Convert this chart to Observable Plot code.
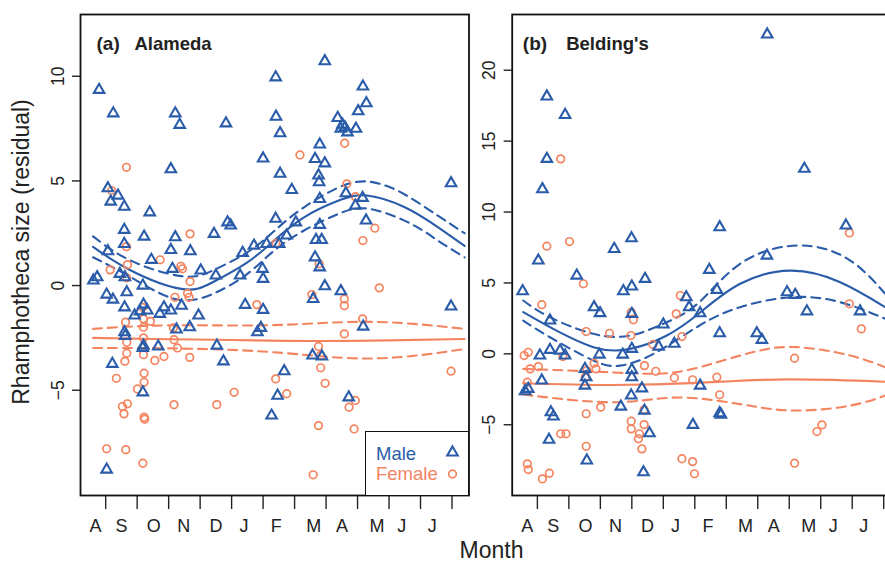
<!DOCTYPE html>
<html><head><meta charset="utf-8">
<script src="https://cdn.jsdelivr.net/npm/d3@7"></script>
<script src="https://cdn.jsdelivr.net/npm/@observablehq/plot@0.6"></script>
<style>
html,body{margin:0;padding:0;background:#fff;overflow:hidden;}
#wrap{position:relative;width:885px;height:562px;overflow:hidden;font-family:"Liberation Sans",Arial,Helvetica,sans-serif;}
.panel{position:absolute;top:0;}
#xtitle{position:absolute;left:0;width:983px;top:539px;text-align:center;font-size:23px;line-height:23px;color:#222;}
#legend{position:absolute;left:365px;top:431px;width:104px;height:65px;box-sizing:border-box;border:1.8px solid #111;background:#fff;}
#legend .t{position:absolute;font-size:18.5px;line-height:18.5px;}
#legend svg{position:absolute;left:0;top:0;}
</style></head>
<body><div id="wrap"></div>
<script>
// ---------- axis / label data ----------
const monthTicks = [1,2,3,4,5,6,7,8,9,10,11,12];
const monthLabels = ["A","S","O","N","D","J","F","M","A","M","J","J"];
const monthLabelPos = [0.68,1.5,2.53,3.48,4.5,5.39,6.42,7.61,8.51,9.62,10.4,11.37];
const alamedaYTicks = [-5,0,5,10];
const beldingYTicks = [-5,0,5,10,15,20];
const yTitle = "Rhamphotheca size (residual)";
const xTitle = "Month";
const legendLabels = ["Male","Female"];

// ---------- (a) Alameda ----------
const alamedaMaleX = [0.79,1.24,3.21,3.35,4.82,6.40,6.41,6.54,3.07,6.00,6.54,6.91,1.07,1.39,1.16,1.59,2.40,1.59,2.22,3.21,1.59,1.07,3.07,3.69,4.44,4.87,4.97,2.45,5.35,5.71,6.11,6.40,7.04,6.75,6.51,1.45,0.73,3.12,4.02,4.50,5.27,5.98,
0.61,1.67,1.61,1.03,1.23,1.60,2.18,1.92,2.09,2.20,2.32,2.72,2.85,3.07,3.41,6.00,3.95,3.67,3.25,1.60,1.62,2.20,2.18,2.67,4.53,4.74,5.43,6.00,5.93,5.82,1.21,2.18,1.03,6.67,6.46,6.27,
7.96,9.17,9.28,9.02,8.37,8.52,8.60,8.68,8.95,8.47,7.80,7.65,7.96,7.76,7.78,11.97,7.80,8.63,9.16,8.93,9.27,7.80,7.68,7.86,7.65,7.80,
7.59,7.96,8.47,9.18,11.97,7.57,7.87,8.72];
const alamedaMaleY = [9.35,8.23,8.23,7.68,7.75,9.95,8.07,7.28,5.56,6.07,5.34,4.57,4.65,4.30,4.01,3.77,3.50,2.66,2.34,2.31,1.99,1.64,1.70,1.64,2.47,3.02,2.87,1.23,1.56,1.91,1.99,3.19,3.02,2.39,1.99,0.56,0.40,0.80,0.72,0.48,0.48,0.80,
0.24,-0.32,0.40,-0.43,-0.67,-1.04,0.00,-1.43,-1.23,-0.91,-1.19,-1.35,-1.04,-1.19,-0.96,0.32,-1.43,-1.99,-2.10,-2.23,-2.40,-2.87,-2.98,-2.91,-2.87,-3.62,-0.92,-1.16,-2.02,-2.23,-3.74,-5.10,-8.79,-4.09,-5.26,-6.21,
10.72,9.51,8.71,8.33,8.01,7.69,7.56,7.32,7.49,7.49,6.74,6.05,5.84,5.26,4.94,4.89,4.14,4.41,4.19,3.82,3.11,2.90,2.18,2.18,1.35,0.87,
-0.64,-0.03,-0.27,-1.96,-1.00,-3.34,-3.39,-5.34];
const alamedaFemaleX = [1.66,1.19,3.68,1.66,1.69,1.14,2.73,3.39,3.44,7.17,6.41,
1.67,3.68,3.20,3.60,3.65,2.17,1.63,2.42,2.20,2.20,2.20,1.67,3.15,3.17,3.28,1.67,2.20,1.61,2.85,2.56,3.67,1.34,2.22,2.22,2.01,5.08,5.80,1.53,1.69,1.58,3.17,4.53,2.22,2.24,1.03,1.64,2.18,6.40,6.75,
8.59,8.66,8.93,9.55,9.17,7.78,
7.55,8.58,8.58,9.69,9.16,8.58,7.76,7.83,7.83,7.97,11.97,8.93,8.73,7.76,8.89,7.59];
const alamedaFemaleY = [5.65,4.54,2.47,1.86,1.00,0.75,1.23,0.92,0.80,6.24,2.02,
0.37,0.19,-0.56,-0.37,-0.56,-1.04,-1.75,-1.71,-1.59,-1.99,-2.50,-2.71,-2.02,-2.59,-2.98,-3.23,-3.30,-3.62,-3.39,-3.58,-3.43,-4.43,-4.19,-4.62,-4.94,-5.10,-0.91,-5.78,-5.65,-6.13,-5.69,-5.69,-6.29,-6.38,-7.80,-7.84,-8.49,-4.46,-5.17,
6.80,4.86,4.25,2.74,2.15,1.04,
-0.43,-0.64,-0.96,-0.11,-1.59,-2.31,-2.91,-3.34,-3.93,-4.67,-4.09,-5.49,-5.81,-6.69,-6.85,-9.04];
// fitted curves
const alamedaMaleFitX   = [0.6,1.8,3.4,4.4,5.5,6.35,7.3,8.4,9.3,10.5,11.55,12.4];
const alamedaMaleFitY   = [1.85,0.72,-0.16,0.16,1.11,2.15,3.26,4.06,4.30,3.74,2.79,1.9];
const alamedaMaleUpX    = [0.6,1.8,3.4,4.4,5.5,6.35,7.3,8.7,9.7,10.5,11.55,12.4];
const alamedaMaleUpY    = [2.35,1.19,0.45,0.72,1.59,2.6,3.74,4.86,4.86,4.35,3.34,2.5];
const alamedaMaleLoX    = [0.6,1.8,3.2,4.4,5.5,6.35,7.3,8.4,9.4,10.7,11.55,12.4];
const alamedaMaleLoY    = [1.35,0.40,-0.64,-0.40,0.56,1.67,2.63,3.43,3.66,2.95,2.15,1.35];
const alamedaFemaleFitX = [0.6,2.5,5,7.5,10,12.4];
const alamedaFemaleFitY = [-2.5,-2.55,-2.6,-2.65,-2.62,-2.55];
const alamedaFemaleUpX  = [0.6,3,6,8.5,10.5,12.4];
const alamedaFemaleUpY  = [-2.07,-1.9,-1.9,-1.75,-1.8,-2.07];
const alamedaFemaleLoX  = [0.6,3,6,8.5,10.5,12.4];
const alamedaFemaleLoY  = [-2.98,-3.0,-3.15,-3.45,-3.4,-3.03];

// ---------- (b) Belding's ----------
const beldingMaleX = [1.30,1.88,1.30,1.16,3.44,3.99,1.03,2.25,4.42,8.30,9.48,6.79,10.80,8.29,6.46,0.53,3.73,4.00,2.80,2.99,1.40,4.00,5.00,5.35,4.85,1.40,1.08,1.72,1.88,2.97,3.71,4.00,2.51,2.55,2.51,4.00,4.00,4.32,3.98,3.65,1.14,0.61,0.71,1.43,1.51,1.37,4.40,4.56,2.57,4.37,5.73,5.82,6.70,6.17,6.79,7.97,8.13,8.93,9.19,9.56,11.25,6.17,6.79,6.83,5.94];
const beldingMaleY = [18.15,16.85,13.75,11.61,7.40,8.15,6.58,5.52,5.29,22.52,13.05,8.93,9.05,6.93,5.92,4.42,4.42,4.75,3.29,2.87,2.35,2.82,2.07,0.71,0.51,0.28,-0.12,0.23,-0.12,-0.05,-0.05,0.35,-1.06,-1.65,-2.24,-1.13,-1.65,-2.43,-2.94,-3.72,-1.88,-2.64,-2.47,-4.12,-4.42,-6.06,-4.00,-5.60,-7.52,-8.35,3.99,3.29,4.51,2.86,1.45,1.45,0.99,4.35,4.16,3.00,3.00,-2.24,-4.19,-4.29,-5.01];
const beldingFemaleX = [1.74,1.30,2.02,10.91,2.46,1.14,2.55,3.29,3.98,4.05,4.67,0.58,0.71,0.77,1.03,1.81,2.80,2.86,2.52,0.68,3.01,2.55,4.40,4.76,4.39,3.98,3.98,4.39,4.24,4.21,4.32,1.74,1.91,2.55,0.68,0.71,1.16,1.38,5.54,5.41,5.35,5.59,5.93,6.70,6.79,9.17,9.88,10.04,10.91,11.29,5.59,5.93,5.99,9.17,3.97,2.57];
const beldingFemaleY = [13.75,7.59,7.92,8.53,4.94,3.46,1.57,1.45,2.93,2.40,0.66,-0.12,0.11,-1.06,-0.90,-0.19,-0.66,-1.06,-1.65,-2.00,-3.76,-4.23,-0.83,-1.23,-3.95,-4.75,-5.29,-4.99,-5.64,-5.99,-6.70,-5.64,-5.64,-6.52,-7.76,-8.16,-8.82,-8.42,4.11,2.82,-1.69,1.22,-1.83,-1.65,-2.89,-0.31,-5.48,-5.01,3.53,1.76,-7.40,-7.60,-8.46,-7.71,1.29,-1.18];
const beldingMaleFitX   = [0.55,1.4,2.78,3.95,5.11,6.15,7.44,9.03,10.62,12.05,12.39];
const beldingMaleFitY   = [2.94,1.88,0.47,0.35,1.29,2.88,4.94,5.87,5.05,3.29,2.85];
const beldingMaleUpX    = [0.55,1.4,2.78,3.95,5.0,6.12,7.44,9.25,10.94,12.05,12.39];
const beldingMaleUpY    = [3.76,2.58,1.41,1.29,2.12,3.6,6.35,7.64,6.58,4.23,3.6];
const beldingMaleLoX    = [0.55,1.4,2.78,3.63,4.69,6.15,7.44,9.03,10.62,12.05,12.39];
const beldingMaleLoY    = [2.35,1.17,-0.47,-0.83,0.0,2.0,3.29,3.99,3.64,2.47,2.1];
const beldingFemaleFitX = [0.55,3.3,6.1,9.0,12.05,12.39];
const beldingFemaleFitY = [-2.07,-2.2,-2.05,-1.8,-1.97,-2.0];
const beldingFemaleUpX  = [0.55,3.31,5.2,6.7,8.0,9.25,10.94,12.05,12.39];
const beldingFemaleUpY  = [-1.06,-1.3,-1.35,-0.6,0.2,0.47,-0.12,-0.94,-1.15];
const beldingFemaleLoX  = [0.55,3.31,5.2,6.7,8.0,9.25,10.94,12.05,12.39];
const beldingFemaleLoY  = [-2.87,-3.41,-3.1,-3.3,-3.75,-4.0,-3.65,-2.94,-2.75];

// ---------- styling ----------
const BLUE = "#2A5CA9";
const ORANGE = "#F4845F";
const FONT = "'Liberation Sans', Arial, Helvetica, sans-serif";
const xDomain = [0.2, 12.54];
const TRI_R = 3.9, CIR_R = 3.8;

const pts = (xs, ys) => xs.map((x, i) => ({x, y: ys[i]}));
const fmt = d => d < 0 ? "\u2212" + Math.abs(d) : String(d);

function panel(o) {
  const lineMarks = [];
  for (const [xs, ys, color, dash] of o.curves) {
    lineMarks.push(Plot.line(pts(xs, ys), {x: "x", y: "y", curve: "natural", stroke: color, strokeWidth: 2.1, strokeDasharray: dash ? "9,6" : null}));
  }
  const marks = [
    Plot.axisX({ticks: monthTicks, tickSize: 14, tickFormat: () => "", label: null, strokeWidth: 1.4, stroke: "#222"}),
    Plot.text(monthLabelPos, {x: d => d, text: (d, i) => monthLabels[i], frameAnchor: "bottom", dy: 36.5, lineAnchor: "bottom", fontSize: 18, fill: "#222"}),
    Plot.axisY({ticks: o.yTicks, tickSize: 8, tickFormat: () => "", label: null, strokeWidth: 1.4, stroke: "#222"}),
    Plot.text(o.yTicks, {y: d => d, text: d => fmt(d), frameAnchor: "left", dx: -17, rotate: -90, textAnchor: "middle", lineAnchor: "bottom", fontSize: 17.5, fill: "#222"}),
    ...lineMarks,
    Plot.dot(pts(o.femX, o.femY), {x: "x", y: "y", r: CIR_R, stroke: ORANGE, strokeWidth: 1.7, fill: "none"}),
    Plot.dot(pts(o.maleX, o.maleY), {x: "x", y: "y", r: TRI_R, symbol: "triangle", stroke: BLUE, strokeWidth: 2.1, fill: "none"}),
    Plot.text([o.tag], {text: d => d, frameAnchor: "top-left", dx: o.tagDx, dy: 35.5, lineAnchor: "bottom", textAnchor: "start", fontWeight: "bold", fontSize: 19, fill: "#222"}),
    Plot.text([o.name], {text: d => d, frameAnchor: "top-left", dx: o.nameDx, dy: 35.5, lineAnchor: "bottom", textAnchor: "start", fontWeight: "bold", fontSize: 18.5, fill: "#222"}),
    Plot.frame({stroke: "#111", strokeWidth: 1.8})
  ];
  if (o.showYTitle) {
    marks.push(Plot.text([yTitle], {text: d => d, frameAnchor: "left", dx: -52, dy: -3, rotate: -90, textAnchor: "middle", lineAnchor: "bottom", fontSize: 23, fill: "#222"}));
  }
  const svg = Plot.plot({
    width: o.width, height: 545,
    marginLeft: o.marginLeft, marginRight: o.width - o.marginLeft - 388.5, marginTop: 14, marginBottom: 50,
    x: {domain: xDomain},
    y: {domain: o.yDomain},
    style: {fontFamily: FONT, background: "transparent", overflow: "visible"},
    marks
  });
  svg.classList.add("panel");
  svg.style.left = o.left + "px";
  return svg;
}

const wrap = document.getElementById("wrap");
wrap.appendChild(panel({
  left: 0, width: 475, marginLeft: 80,
  yDomain: [-10.03, 12.95], yTicks: alamedaYTicks,
  maleX: alamedaMaleX, maleY: alamedaMaleY, femX: alamedaFemaleX, femY: alamedaFemaleY,
  curves: [
    [alamedaFemaleFitX, alamedaFemaleFitY, ORANGE, false],
    [alamedaFemaleUpX, alamedaFemaleUpY, ORANGE, true],
    [alamedaFemaleLoX, alamedaFemaleLoY, ORANGE, true],
    [alamedaMaleFitX, alamedaMaleFitY, BLUE, false],
    [alamedaMaleUpX, alamedaMaleUpY, BLUE, true],
    [alamedaMaleLoX, alamedaMaleLoY, BLUE, true]
  ],
  tag: "(a)", tagDx: 16, name: "Alameda", nameDx: 54, showYTitle: true
}));
wrap.appendChild(panel({
  left: 470, width: 445, marginLeft: 41.7,
  yDomain: [-9.99, 23.93], yTicks: beldingYTicks,
  maleX: beldingMaleX, maleY: beldingMaleY, femX: beldingFemaleX, femY: beldingFemaleY,
  curves: [
    [beldingFemaleFitX, beldingFemaleFitY, ORANGE, false],
    [beldingFemaleUpX, beldingFemaleUpY, ORANGE, true],
    [beldingFemaleLoX, beldingFemaleLoY, ORANGE, true],
    [beldingMaleFitX, beldingMaleFitY, BLUE, false],
    [beldingMaleUpX, beldingMaleUpY, BLUE, true],
    [beldingMaleLoX, beldingMaleLoY, BLUE, true]
  ],
  tag: "(b)", tagDx: 10.6, name: "Belding's", nameDx: 54, showYTitle: false
}));

// x title
const xt = document.createElement("div");
xt.id = "xtitle"; xt.textContent = xTitle;
wrap.appendChild(xt);

// legend
const lg = document.createElement("div");
lg.id = "legend";
const colors = [BLUE, ORANGE];
legendLabels.forEach((lab, i) => {
  const s = document.createElement("span");
  s.className = "t"; s.textContent = lab; s.style.color = colors[i];
  s.style.left = "10px"; s.style.top = (i === 0 ? 13 : 33) + "px";
  lg.appendChild(s);
});
const ns = "http://www.w3.org/2000/svg";
const ls = document.createElementNS(ns, "svg");
ls.setAttribute("width", "100"); ls.setAttribute("height", "62");
const tri = document.createElementNS(ns, "path");
tri.setAttribute("d", d3.symbol(d3.symbolTriangle, Math.PI * TRI_R * TRI_R)());
tri.setAttribute("transform", "translate(86.5,20.5)");
tri.setAttribute("fill", "none"); tri.setAttribute("stroke", BLUE); tri.setAttribute("stroke-width", "2.1");
const cir = document.createElementNS(ns, "circle");
cir.setAttribute("cx", "86.5"); cir.setAttribute("cy", "42"); cir.setAttribute("r", String(CIR_R));
cir.setAttribute("fill", "none"); cir.setAttribute("stroke", ORANGE); cir.setAttribute("stroke-width", "1.7");
ls.appendChild(tri); ls.appendChild(cir);
lg.appendChild(ls);
wrap.appendChild(lg);
</script>
</body></html>
